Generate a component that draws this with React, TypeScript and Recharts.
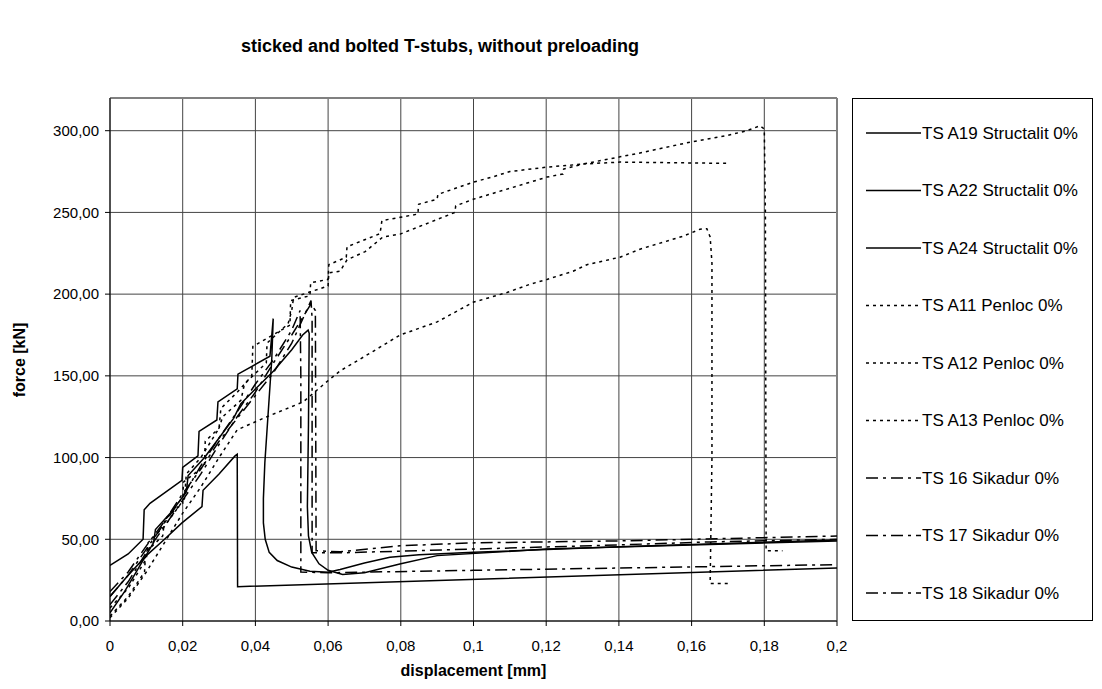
import { LineChart, Line, XAxis, YAxis, CartesianGrid, ReferenceLine } from 'recharts';

type Pt = [number, number];

const xTicks = [0, 0.02, 0.04, 0.06, 0.08, 0.1, 0.12, 0.14, 0.16, 0.18, 0.2];
const yTicks = [0, 50, 100, 150, 200, 250, 300];

// Structalit (solid)
const tsA19: Pt[] = [
  [0, 34], [0.005, 41], [0.0091, 50], [0.0094, 68], [0.011, 72], [0.0198, 86], [0.02, 94],
  [0.0242, 101], [0.0245, 116], [0.0294, 123], [0.0297, 134], [0.035, 142], [0.0352, 151],
  [0.044, 162], [0.0449, 185], [0.0445, 160], [0.0426, 97], [0.0422, 75], [0.0422, 60],
  [0.0427, 50], [0.0438, 42], [0.046, 37], [0.05, 33], [0.055, 30.5], [0.06, 29.8],
  [0.0633, 31.5], [0.07, 35.5], [0.077, 39], [0.085, 40.5], [0.1, 42], [0.14, 45.5],
  [0.2, 49.5],
];
const tsA22: Pt[] = [
  [0, 5], [0.004, 18], [0.008, 33], [0.012, 48], [0.0125, 56], [0.017, 67], [0.021, 79],
  [0.0215, 89], [0.026, 100], [0.03, 112], [0.034, 124], [0.036, 133], [0.04, 142],
  [0.045, 153], [0.05, 166], [0.053, 175], [0.0545, 178], [0.0548, 176], [0.0546, 120],
  [0.0543, 70], [0.0546, 52], [0.0555, 42], [0.0575, 35], [0.06, 31], [0.064, 28.5],
  [0.07, 29.5], [0.08, 35], [0.09, 40], [0.12, 44], [0.2, 49],
];
const tsA24: Pt[] = [
  [0, 15], [0.005, 28], [0.01, 40], [0.015, 50], [0.0198, 60], [0.0253, 70], [0.0256, 80],
  [0.03, 90], [0.0344, 101], [0.035, 102], [0.0351, 21], [0.2, 32.5],
];

// Penloc (dotted)
const tsA11: Pt[] = [
  [0, 8], [0.005, 20], [0.01, 38], [0.0105, 48], [0.015, 58], [0.0205, 75], [0.021, 90],
  [0.025, 100], [0.03, 118], [0.0305, 130], [0.035, 140], [0.039, 150], [0.0393, 168],
  [0.0495, 181], [0.0497, 196], [0.055, 199], [0.0552, 207], [0.06, 209], [0.0602, 218],
  [0.065, 222.6], [0.0652, 229], [0.0743, 237], [0.0748, 245], [0.0798, 247], [0.0847, 249],
  [0.0849, 255], [0.09, 258], [0.0902, 261], [0.0999, 268.5], [0.1051, 271.6], [0.11, 275],
  [0.1202, 277.7], [0.1301, 279.6], [0.1403, 284], [0.145, 286], [0.1596, 293],
  [0.1697, 297], [0.1752, 300], [0.1788, 303], [0.18, 301], [0.1803, 250], [0.1805, 43],
  [0.185, 43],
];
const tsA12: Pt[] = [
  [0, 3], [0.005, 15], [0.0095, 30], [0.0098, 42], [0.0145, 52], [0.015, 62], [0.02, 72],
  [0.0202, 85], [0.026, 95], [0.0262, 110], [0.03, 118], [0.031, 125], [0.036, 135],
  [0.037, 145], [0.043, 158], [0.0432, 170], [0.049, 182], [0.05, 190], [0.0505, 198],
  [0.06, 205], [0.0602, 213], [0.0633, 214], [0.0652, 221], [0.0702, 226], [0.0751, 235],
  [0.0798, 236.7], [0.0949, 250], [0.0951, 254], [0.0999, 258], [0.1202, 271.6],
  [0.1246, 273.5], [0.1248, 276.5], [0.1301, 279.6], [0.1403, 280.8], [0.1695, 280],
];
const tsA13: Pt[] = [
  [0, 2], [0.005, 14], [0.01, 30], [0.015, 48], [0.02, 66], [0.025, 82], [0.03, 100],
  [0.035, 117], [0.0432, 125], [0.0531, 134], [0.0605, 148], [0.0633, 153], [0.0724, 165],
  [0.0798, 175], [0.09, 183], [0.0999, 195], [0.1092, 201], [0.1155, 206], [0.1202, 209],
  [0.1274, 214], [0.1312, 218], [0.1403, 222.6], [0.1458, 227.5], [0.1576, 235.4],
  [0.1623, 239.7], [0.1642, 240], [0.1651, 235], [0.1656, 219], [0.1656, 100], [0.1651, 23],
  [0.17, 23],
];

// Sikadur (dash-dot)
const ts16: Pt[] = [
  [0, 15], [0.005, 28], [0.01, 44], [0.015, 60], [0.02, 76], [0.025, 95], [0.03, 112],
  [0.035, 128], [0.04, 145], [0.045, 160], [0.05, 178], [0.0523, 190], [0.0525, 150],
  [0.0525, 30], [0.06, 29.5], [0.1, 31], [0.2, 34.5],
];
const ts17: Pt[] = [
  [0, 10], [0.005, 24], [0.01, 42], [0.015, 58], [0.02, 74], [0.025, 90], [0.03, 108],
  [0.035, 125], [0.04, 140], [0.045, 158], [0.05, 175], [0.0553, 194], [0.0565, 190],
  [0.0567, 43], [0.0633, 42.3], [0.0798, 46], [0.0999, 47.8], [0.1403, 49], [0.2, 52],
];
const ts18: Pt[] = [
  [0, 18], [0.005, 30], [0.01, 46], [0.015, 61], [0.02, 78], [0.025, 93], [0.03, 110],
  [0.035, 124], [0.04, 138], [0.045, 152], [0.05, 170], [0.0553, 196], [0.0556, 185],
  [0.0556, 41.7], [0.0633, 41.7], [0.0999, 44], [0.1403, 46.6], [0.1651, 48.4], [0.2, 50],
];

const SOLID = undefined;
const DOTTED = '3 4';
const DASHDOT = '12 5 3 5';

const series = [
  { name: 'TS A19 Structalit 0%', data: tsA19, dash: SOLID },
  { name: 'TS A22 Structalit 0%', data: tsA22, dash: SOLID },
  { name: 'TS A24 Structalit 0%', data: tsA24, dash: SOLID },
  { name: 'TS A11 Penloc 0%', data: tsA11, dash: DOTTED },
  { name: 'TS A12 Penloc 0%', data: tsA12, dash: DOTTED },
  { name: 'TS A13 Penloc 0%', data: tsA13, dash: DOTTED },
  { name: 'TS 16 Sikadur 0%', data: ts16, dash: DASHDOT },
  { name: 'TS 17 Sikadur 0%', data: ts17, dash: DASHDOT },
  { name: 'TS 18 Sikadur 0%', data: ts18, dash: DASHDOT },
];

const FONT = '"Liberation Sans", Arial, sans-serif';

const fmtX = (v: number) => String(Number(v.toFixed(2))).replace('.', ',');
const fmtY = (v: number) => v.toFixed(2).replace('.', ',');

function ChartLegend() {
  return (
    <div
      style={{
        position: 'absolute',
        left: 844,
        top: 90,
        width: 241,
        height: 523,
        border: '1px solid #000',
        boxSizing: 'border-box',
        background: '#fff',
      }}
    >
      <svg width={239} height={521}>
        {series.map((s, i) => {
          const y = 34 + i * 57.5;
          return (
            <g key={s.name}>
              <line x1={13} x2={68} y1={y} y2={y} stroke="#000" strokeWidth={1.5} strokeDasharray={s.dash} />
              <text x={69} y={y} dy="0.35em" fontSize={17} fontFamily={FONT} fill="#000">
                {s.name}
              </text>
            </g>
          );
        })}
      </svg>
    </div>
  );
}

export default function App() {
  return (
    <div style={{ position: 'relative', width: 1086, height: 673, fontFamily: FONT, background: '#fff' }}>
      <div
        style={{
          position: 'absolute',
          left: 0,
          width: 864,
          top: 28,
          textAlign: 'center',
          fontWeight: 'bold',
          fontSize: 18,
        }}
      >
        sticked and bolted T-stubs, without preloading
      </div>
      <LineChart width={1086} height={673} margin={{ top: 90, right: 257, bottom: 30, left: 0 }}>
        <CartesianGrid stroke="#444" strokeWidth={1} />
        <XAxis
          type="number"
          dataKey="x"
          domain={[0, 0.2]}
          ticks={xTicks}
          tickFormatter={fmtX}
          allowDataOverflow
          height={30}
          stroke="#000"
          tickSize={5}
          tickMargin={14}
          tick={{ fill: '#000', fontSize: 15, fontFamily: FONT }}
        />
        <YAxis
          type="number"
          dataKey="y"
          domain={[0, 320]}
          ticks={yTicks}
          tickFormatter={fmtY}
          allowDataOverflow
          width={102}
          stroke="#000"
          tickSize={5}
          tickMargin={6}
          tick={{ fill: '#000', fontSize: 15, fontFamily: FONT }}
        />
        <ReferenceLine y={320} stroke="#808080" strokeWidth={2} />
        <ReferenceLine x={0.2} stroke="#808080" strokeWidth={2} />
        {series.map((s) => (
          <Line
            key={s.name}
            name={s.name}
            data={s.data.map(([x, y]) => ({ x, y }))}
            dataKey="y"
            type="linear"
            stroke="#000"
            strokeWidth={1.5}
            strokeDasharray={s.dash}
            dot={false}
            activeDot={false}
            isAnimationActive={false}
          />
        ))}
      </LineChart>
      <div
        style={{
          position: 'absolute',
          left: 12,
          top: 352,
          transform: 'translate(-50%, -50%) rotate(-90deg)',
          whiteSpace: 'nowrap',
          fontWeight: 'bold',
          fontSize: 16,
        }}
      >
        force [kN]
      </div>
      <div
        style={{
          position: 'absolute',
          left: 102,
          width: 727,
          top: 654,
          textAlign: 'center',
          fontWeight: 'bold',
          fontSize: 16,
        }}
      >
        displacement [mm]
      </div>
      <ChartLegend />
    </div>
  );
}
